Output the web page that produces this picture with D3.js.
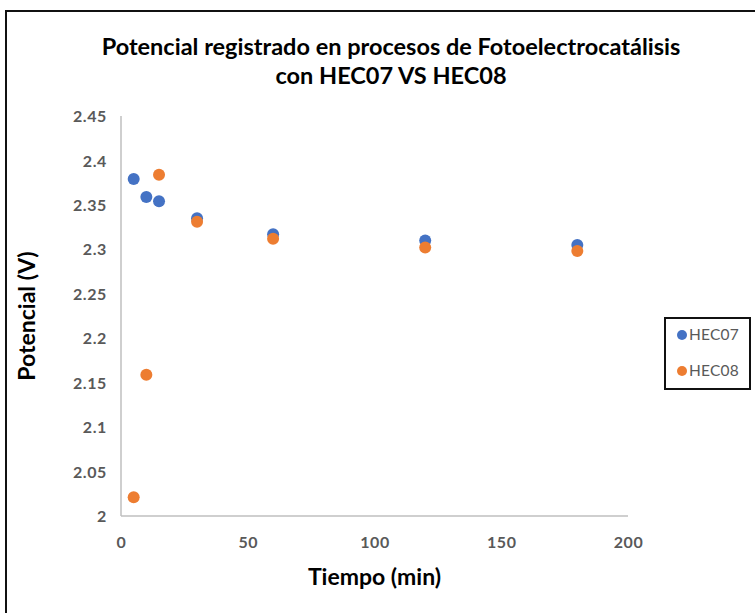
<!DOCTYPE html>
<html>
<head>
<meta charset="utf-8">
<script src="https://cdn.jsdelivr.net/npm/d3@7"></script>
<style>
  body { margin: 0; background: #fff; }
  svg { display: block; font-family: Lato, "Open Sans", sans-serif; }
</style>
</head>
<body>
<svg id="chart" width="755" height="613"></svg>
<script>
// Data
const timeHEC07 = [5, 10, 15, 30, 60, 120, 180];
const valHEC07 = [2.379, 2.359, 2.354, 2.335, 2.317, 2.31, 2.305];
const timeHEC08 = [5, 10, 15, 30, 60, 120, 180];
const valHEC08 = [2.021, 2.159, 2.384, 2.331, 2.312, 2.302, 2.298];
const seriesNames = ['HEC07', 'HEC08'];
const seriesColors = ['#4472C4', '#ED7D31'];
const xTicks = [0, 50, 100, 150, 200];
const yTicks = [2, 2.05, 2.1, 2.15, 2.2, 2.25, 2.3, 2.35, 2.4, 2.45];

const d3 = window.d3;
const svg = d3.select('#chart');
const margin = {top: 116, left: 121, right: 127, bottom: 97};
const width = 755;
const height = 613;

// Outer chart frame (right and bottom edges fall outside the picture)
svg.append('path')
    .attr('d', 'M6,613 V11 H755')
    .attr('fill', 'none')
    .attr('stroke', '#111')
    .attr('stroke-width', 2);

const x = d3.scaleLinear().domain([0, 200])
    .range([margin.left, width - margin.right]);
const y = d3.scaleLinear().domain([2, 2.45])
    .range([height - margin.bottom, margin.top]);

// Axis lines, no tick marks
const xAxis = svg.append('g')
    .attr('transform', `translate(0,${y(2)})`)
    .call(d3.axisBottom(x).tickValues(xTicks).tickSize(0).tickPadding(21)
        .tickFormat(d3.format('d')));
const yAxis = svg.append('g')
    .attr('transform', `translate(${x(0)},0)`)
    .call(d3.axisLeft(y).tickValues(yTicks).tickSize(0).tickPadding(14)
        .tickFormat((d) => String(+d.toFixed(2))));

[xAxis, yAxis].forEach((g) => {
  g.select('.domain').attr('stroke', '#bfbfbf').attr('stroke-width', 1.5);
  g.selectAll('text')
      .attr('fill', '#595959')
      .style('font-size', '16px')
      .style('font-weight', 'bold')
      .style('letter-spacing', '0.6px')
      .style('font-family', 'Lato, "Open Sans", sans-serif');
});
yAxis.selectAll('text').attr('dy', '0.35em');
xAxis.select('.domain').attr('d', `M${x(0)},0H${x(200)}`);
yAxis.select('.domain').attr('d', `M0,${y(2)}V${y(2.45)}`);

// Points
const series = [
  {name: seriesNames[0], color: seriesColors[0], pts: d3.zip(timeHEC07, valHEC07)},
  {name: seriesNames[1], color: seriesColors[1], pts: d3.zip(timeHEC08, valHEC08)},
];

svg.selectAll('g.series')
    .data(series)
    .join('g')
    .attr('class', 'series')
    .attr('fill', (d) => d.color)
    .selectAll('circle')
    .data((d) => d.pts)
    .join('circle')
    .attr('cx', (d) => x(d[0]))
    .attr('cy', (d) => y(d[1]))
    .attr('r', 6);

// Title
const title = svg.append('text')
    .attr('text-anchor', 'middle')
    .style('font-size', '23.5px')
    .style('font-weight', 'bold')
    .attr('fill', '#000');
title.append('tspan').attr('x', 391).attr('y', 55)
    .text('Potencial registrado en procesos de Fotoelectrocatálisis');
title.append('tspan').attr('x', 391).attr('y', 84)
    .text('con HEC07 VS HEC08');

// Axis titles
svg.append('text')
    .attr('x', (x(0) + x(200)) / 2)
    .attr('y', 585)
    .attr('text-anchor', 'middle')
    .style('font-size', '23px')
    .style('font-weight', 'bold')
    .text('Tiempo (min)');

svg.append('text')
    .attr('transform', `translate(35,${(y(2) + y(2.45)) / 2}) rotate(-90)`)
    .attr('text-anchor', 'middle')
    .style('font-size', '23px')
    .style('font-weight', 'bold')
    .text('Potencial (V)');

// Legend
const legend = svg.append('g').attr('transform', 'translate(665,318)');
legend.append('rect')
    .attr('width', 85)
    .attr('height', 71)
    .attr('fill', '#fff')
    .attr('stroke', '#111')
    .attr('stroke-width', 2);
const item = legend.selectAll('g.item')
    .data(series)
    .join('g')
    .attr('class', 'item')
    .attr('transform', (d, i) => `translate(0,${17 + i * 36})`);
item.append('circle')
    .attr('cx', 17)
    .attr('cy', 0)
    .attr('r', 5)
    .attr('fill', (d) => d.color);
item.append('text')
    .attr('x', 24)
    .attr('y', 0)
    .attr('dy', '0.35em')
    .attr('fill', '#595959')
    .style('font-size', '15.5px')
    .style('letter-spacing', '0.2px')
    .text((d) => d.name);
</script>
</body>
</html>
